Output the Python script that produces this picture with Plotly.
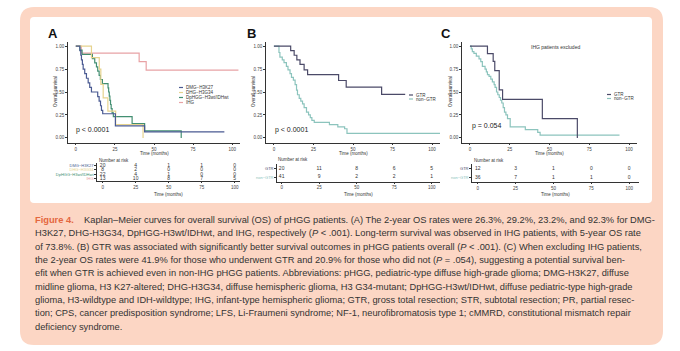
import plotly.graph_objects as go

W, H = 680, 351
def fx(x): return x / W
def fy(y): return 1 - y / H

# ---------------- data ----------------
times_ticks = [0, 25, 50, 75, 100]

# Panel A
dmg_t = [0, 2.6, 3.2, 3.6, 4.2, 4.7, 5.7, 6.8, 7.9, 8.9, 10.0, 14.0, 14.9, 15.8, 16.4, 17.2, 25.3, 44.0, 95]
dmg_s = [1, .95, .90, .85, .80, .75, .70, .65, .60, .55, .50, .45, .40, .35, .30, .263, .132, .066, .066]
dhg_t = [0, 10.0, 15.0, 16.0, 17.5, 20.5, 25.5, 43.0]
dhg_s = [1, .875, .75, .583, .437, .292, .146, 0]
dp_t = [0, 2.6, 4.0, 10.6, 12.1, 13.2, 14.0, 14.9, 15.7, 17.0, 20.6, 21.0, 21.4, 21.8, 22.2, 22.6, 23.2, 24.0, 36.0, 44.0, 67.4]
dp_s = [1, .955, .909, .864, .818, .773, .727, .682, .636, .591, .545, .50, .455, .409, .364, .318, .273, .232, .155, .077, 0]
ihg_t = [0, 3.5, 40.5, 45.0, 104]
ihg_s = [1, .923, .831, .738, .738]

# Panel B
bg_t = [0, 10.6, 12.8, 14.5, 16.5, 19.1, 21.3, 40.9, 45.7, 68.1, 83]
bg_s = [1, .95, .90, .85, .80, .74, .69, .625, .553, .474, .474]
bn_t = [0, 3.2, 3.8, 5.3, 6.4, 7.9, 8.9, 10.2, 11.1, 12.3, 13.4, 14.3, 14.9, 16.0, 17.0, 18.1, 19.1, 20.6, 21.9, 23.0, 24.0, 25.5, 35.1, 40.4, 44.7, 46.2, 105]
bn_s = [1, .93, .88, .85, .82, .78, .74, .70, .66, .63, .58, .52, .47, .43, .40, .37, .33, .28, .25, .22, .19, .17, .145, .12, .10, .05, .05]

# Panel C
cg_t = [0, 11.0, 14.6, 15.6, 18.4, 20.5, 45.5, 67.5]
cg_s = [1, .917, .833, .733, .524, .419, .21, 0]
cn_t = [0, 0.8, 1.5, 2.5, 4.0, 5.7, 6.8, 7.8, 9.5, 10.3, 11.0, 12.0, 13.1, 14.1, 15.2, 15.8, 16.7, 17.5, 18.4, 19.2, 20.0, 20.9, 21.7, 22.6, 23.6, 25.3, 34.8, 42.6, 44.1, 94]
cn_s = [1, .97, .94, .92, .89, .86, .83, .78, .75, .72, .69, .67, .64, .61, .58, .55, .50, .47, .44, .41, .38, .33, .28, .25, .209, .12, .09, .06, .03, .03]

# risk tables
a_groups = ["DMG\u2212H3K27", "DHG\u2212H3G34", "DpHGG\u2212H3wt/IDHwt", "IHG"]
a_risk = [[20, 4, 1, 1, 0], [8, 2, 0, 0, 0], [22, 4, 1, 0, 0], [13, 10, 8, 7, 5]]
b_groups = ["GTR", "non\u2212GTR"]
b_risk = [[20, 11, 8, 6, 5], [41, 9, 2, 2, 1]]
c_groups = ["GTR", "non\u2212GTR"]
c_risk = [[12, 3, 1, 0, 0], [36, 7, 1, 1, 0]]

COL_A = ["#4a5a92", "#e6d38e", "#438f72", "#e8a2a5"]
COL_GTR = "#4b4a68"
COL_NON = "#8cc4bd"

FONT = "Liberation Sans, Arial, sans-serif"
CAPFONT = "Liberation Sans Narrow, Arial Narrow, Liberation Sans, Arial, sans-serif"

fig = go.Figure()

def add_curve(t, s, color, xa, ya):
    fig.add_trace(go.Scatter(x=t, y=s, mode="lines", line=dict(color=color, width=1.2, shape="hv"),
                             xaxis=xa, yaxis=ya, showlegend=False, hoverinfo="skip"))

add_curve(ihg_t, ihg_s, COL_A[3], "x", "y")
add_curve(dp_t, dp_s, COL_A[2], "x", "y")
add_curve(dhg_t, dhg_s, COL_A[1], "x", "y")
add_curve(dmg_t, dmg_s, COL_A[0], "x", "y")
add_curve(bn_t, bn_s, COL_NON, "x2", "y2")
add_curve(bg_t, bg_s, COL_GTR, "x2", "y2")
add_curve(cn_t, cn_s, COL_NON, "x3", "y3")
add_curve(cg_t, cg_s, COL_GTR, "x3", "y3")

def add_table(risk, xa, ya):
    n = len(risk)
    for i, row in enumerate(risk):
        fig.add_trace(go.Scatter(x=times_ticks, y=[n - 1 - i] * len(row), mode="text",
                                 text=[str(v) for v in row], textfont=dict(size=5, color="#333", family=FONT),
                                 xaxis=xa, yaxis=ya, showlegend=False, hoverinfo="skip"))

add_table(a_risk, "x4", "y4")
add_table(b_risk, "x5", "y5")
add_table(c_risk, "x6", "y6")

axis_common = dict(showline=True, linecolor="#333", linewidth=0.8, ticks="outside", ticklen=2,
                   tickwidth=0.8, tickcolor="#333", showgrid=False, zeroline=False,
                   tickfont=dict(size=4.5, color="#444", family=FONT))

main_x = [(68, 240), (266, 440), (462, 637)]
for k, (x0, x1) in enumerate(main_x):
    sfx = "" if k == 0 else str(k + 1)
    fig.update_layout(**{
        "xaxis" + sfx: dict(domain=[fx(x0), fx(x1)], range=[-5, 105], anchor="y" + sfx,
                            tickvals=times_ticks, **axis_common),
        "yaxis" + sfx: dict(domain=[fy(142.5), fy(41.5)], range=[-0.05, 1.05], anchor="x" + sfx,
                            tickvals=[0, .25, .5, .75, 1], ticktext=["0.00", "0.25", "0.50", "0.75", "1.00"],
                            **axis_common),
    })

tables = [((96.7, 240), (181, 163), [-4.5, 104], a_groups, COL_A),
          ((276.7, 440), (181.5, 164), [-3.3, 105.5], b_groups, [COL_GTR, COL_NON]),
          ((471.7, 639), (182, 164), [-4, 106.5], c_groups, [COL_GTR, COL_NON])]
tbl_axis = {**axis_common, "ticklen": 1.5}
for k, ((x0, x1), (yb, yt), xr, groups, cols) in enumerate(tables):
    sfx = str(k + 4)
    n = len(groups)
    fig.update_layout(**{
        "xaxis" + sfx: dict(domain=[fx(x0), fx(x1)], range=xr, anchor="y" + sfx,
                            tickvals=times_ticks, **tbl_axis),
        "yaxis" + sfx: dict(domain=[fy(yb), fy(yt)], range=[-0.5, n - 0.5], anchor="x" + sfx,
                            tickvals=list(range(n - 1, -1, -1)),
                            ticktext=[f"<span style='color:{c}'>{g}</span>" for g, c in zip(groups, cols)],
                            **{**tbl_axis, "tickfont": dict(size=4, family=FONT)}),
    })

ann = []
def text(x, y, s, size=5, color="#333", xanchor="center", family=FONT, angle=0, yanchor="middle"):
    ann.append(dict(x=fx(x), y=fy(y), xref="paper", yref="paper", text=s, showarrow=False,
                    font=dict(size=size, color=color, family=family), xanchor=xanchor, yanchor=yanchor,
                    textangle=angle))

# panel letters
for lab, x in [("A", 53), ("B", 251), ("C", 446)]:
    text(x, 33, f"<b>{lab}</b>", size=13, color="#111")

# axis titles
for x0, x1, ytx in [(68, 240, 55), (266, 440, 253), (462, 637, 450)]:
    text((x0 + x1) / 2, 153.5, "Time (months)", size=4.5)
    text(ytx, 92, "Overall survival", size=4.5, angle=-90)
for x0, x1 in [(96.7, 240), (276.7, 440), (471.7, 639)]:
    text((x0 + x1) / 2, 194, "Time (months)", size=4.5)
for x, y in [(97, 160), (276, 159.5), (472, 160)]:
    text(x, y, "Number at risk", size=4.5, xanchor="left")

# p-values
text(74, 130, "p &lt; 0.0001", size=7, xanchor="left", color="#222")
text(273, 130, "p &lt; 0.0001", size=7, xanchor="left", color="#222")
text(470, 126, "p = 0.054", size=7, xanchor="left", color="#222")
text(555, 47, "IHG patients excluded", size=5)

# legends (manual)
shapes = []
def leg(x, y, color, label):
    shapes.append(dict(type="line", xref="paper", yref="paper", x0=fx(x), x1=fx(x + 4), y0=fy(y), y1=fy(y),
                       line=dict(color=color, width=1.2)))
    text(x + 5, y, label, size=4.5, xanchor="left")

for i, (g, c) in enumerate(zip(a_groups, COL_A)):
    leg(179, 87.5 + 5 * i, c, g)
leg(409, 95, COL_GTR, "GTR")
leg(409, 99, COL_NON, "non\u2212GTR")
leg(607, 94.5, COL_GTR, "GTR")
leg(607, 98.5, COL_NON, "non\u2212GTR")

# caption
cap = [
    "<b><span style='color:#e4673f'>Figure 4.</span></b>&nbsp;&nbsp;&nbsp; Kaplan\u2013Meier curves for overall survival (OS) of pHGG patients. (A) The 2-year OS rates were 26.3%, 29.2%, 23.2%, and 92.3% for DMG-",
    "H3K27, DHG-H3G34, DpHGG-H3wt/IDHwt, and IHG, respectively (<i>P</i> &lt; .001). Long-term survival was observed in IHG patients, with 5-year OS rate",
    "of 73.8%. (B) GTR was associated with significantly better survival outcomes in pHGG patients overall (<i>P</i> &lt; .001). (C) When excluding IHG patients,",
    "the 2-year OS rates were 41.9% for those who underwent GTR and 20.9% for those who did not (<i>P</i> = .054), suggesting a potential survival ben-",
    "efit when GTR is achieved even in non-IHG pHGG patients. Abbreviations: pHGG, pediatric-type diffuse high-grade glioma; DMG-H3K27, diffuse",
    "midline glioma, H3 K27-altered; DHG-H3G34, diffuse hemispheric glioma, H3 G34-mutant; DpHGG-H3wt/IDHwt, diffuse pediatric-type high-grade",
    "glioma, H3-wildtype and IDH-wildtype; IHG, infant-type hemispheric glioma; GTR, gross total resection; STR, subtotal resection; PR, partial resec-",
    "tion; CPS, cancer predisposition syndrome; LFS, Li-Fraumeni syndrome; NF-1, neurofibromatosis type 1; cMMRD, constitutional mismatch repair",
    "deficiency syndrome.",
]
for i, line in enumerate(cap):
    text(33, 220 + 13.33 * i, line, size=9.3, color="#333", xanchor="left", family=CAPFONT)

def rrect(x0, y0, x1, y1, r, color):
    p = (f"M {fx(x0 + r)},{fy(y0)} L {fx(x1 - r)},{fy(y0)} Q {fx(x1)},{fy(y0)} {fx(x1)},{fy(y0 + r)} "
         f"L {fx(x1)},{fy(y1 - r)} Q {fx(x1)},{fy(y1)} {fx(x1 - r)},{fy(y1)} "
         f"L {fx(x0 + r)},{fy(y1)} Q {fx(x0)},{fy(y1)} {fx(x0)},{fy(y1 - r)} "
         f"L {fx(x0)},{fy(y0 + r)} Q {fx(x0)},{fy(y0)} {fx(x0 + r)},{fy(y0)} Z")
    return dict(type="path", xref="paper", yref="paper", path=p, fillcolor=color,
                line=dict(width=0), layer="below")

shapes = [rrect(20, 7, 663, 345, 14, "#fcd6c4"), rrect(30, 17, 652, 203, 4, "#ffffff")] + shapes

fig.update_layout(width=W, height=H, margin=dict(l=0, r=0, t=0, b=0),
                  paper_bgcolor="white", plot_bgcolor="rgba(0,0,0,0)",
                  annotations=ann, shapes=shapes, showlegend=False, font=dict(family=FONT))
fig.write_html("out.html")
